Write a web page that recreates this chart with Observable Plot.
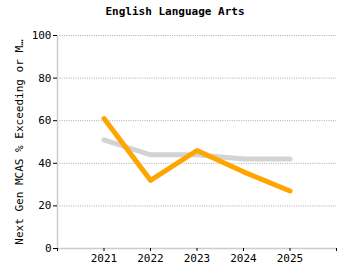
<!DOCTYPE html>
<html><head><meta charset="utf-8">
<script src="https://cdn.jsdelivr.net/npm/d3@7"></script>
<script src="https://cdn.jsdelivr.net/npm/@observablehq/plot@0.6"></script>
<style>
body{margin:0;background:#fff;}
#title{width:350px;height:24px;text-align:center;font:bold 11px "DejaVu Sans Mono",monospace;line-height:24px;color:#000;}
</style></head><body>
<div id="title">English Language Arts</div>
<div id="chart"></div>
<script>
const years = [2021, 2022, 2023, 2024, 2025];
const schoolValues = [61, 32, 46, 36, 27];
const stateValues = [51, 44, 44, 42, 42];
const xTicks = [2020, 2021, 2022, 2023, 2024, 2025, 2026];
const xDomain = [2020, 2026];
const yTicks = [0, 20, 40, 60, 80, 100];
const yLabel = "Next Gen MCAS % Exceeding or M…";

const school = years.map((y, i) => ({year: y, value: schoolValues[i]}));
const state = years.map((y, i) => ({year: y, value: stateValues[i]}));

const chart = Plot.plot({
  width: 350,
  height: 256,
  marginTop: 11,
  marginBottom: 32,
  marginLeft: 57,
  marginRight: 14,
  style: {fontFamily: "'DejaVu Sans Mono', monospace", fontSize: "11px", color: "#000", background: "#fff"},
  x: {domain: xDomain},
  y: {domain: [0, 100]},
  marks: [
    Plot.gridY(yTicks.filter(d => d > 0), {stroke: "#aaa", strokeOpacity: 1, strokeDasharray: "1,1.3"}),
    Plot.ruleY([0], {stroke: "#ccc", strokeWidth: 1.5}),
    Plot.ruleX([xDomain[0]], {y1: 0, y2: 100, stroke: "#ccc", strokeWidth: 1.5}),
    Plot.axisX({ticks: xTicks, tickSize: 3, tickPadding: 3, tickFormat: d => (d === 2020 || d === 2026) ? "" : String(d), label: null}),
    Plot.axisY({ticks: yTicks, tickSize: 4, tickPadding: 2, label: yLabel, labelAnchor: "center", labelArrow: "none", labelOffset: 42}),
    Plot.line(state, {x: "year", y: "value", stroke: "#d3d3d3", strokeWidth: 5, strokeLinecap: "round", strokeLinejoin: "round"}),
    Plot.line(school, {x: "year", y: "value", stroke: "orange", strokeWidth: 5, strokeLinecap: "round", strokeLinejoin: "round"})
  ]
});
document.getElementById("chart").appendChild(chart);
</script>
</body></html>
